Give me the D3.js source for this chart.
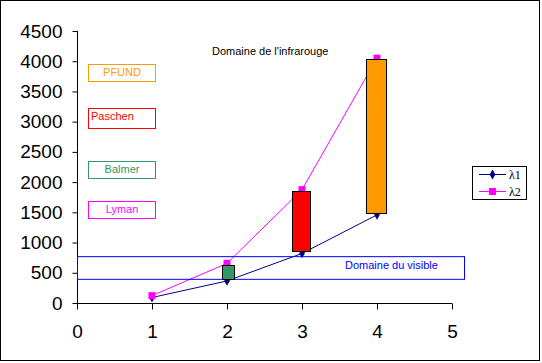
<!DOCTYPE html>
<html>
<head>
<meta charset="utf-8">
<script src="https://cdn.jsdelivr.net/npm/d3@7"></script>
<style>
  html, body { margin: 0; padding: 0; background: #fff; }
  svg { display: block; }
</style>
</head>
<body>
<svg id="chart" width="542" height="363"></svg>
<script>
// ---- data ----
const xValues = [1, 2, 3, 4];
const lambda1 = [91, 365, 820, 1458];
const lambda2 = [122, 656, 1875, 4051];
const seriesNames = ["λ1", "λ2"];
const yTicks = [0, 500, 1000, 1500, 2000, 2500, 3000, 3500, 4000, 4500];
const xTicks = [0, 1, 2, 3, 4, 5];
// floating range bars: [x0, x1, low, high]
const bandNames = ["Balmer", "Paschen", "PFUND"];
const bandX0 = [1.93, 2.87, 3.85];
const bandX1 = [2.09, 3.11, 4.12];
const bandLow = [400, 860, 1500];
const bandHigh = [630, 1853, 4040];
const visibleRange = [400, 775];
const visibleXRange = [0, 5.16];
const seriesLabels = ["PFUND", "Paschen", "Balmer", "Lyman"];
const seriesLabelValues = [3820, 3060, 2210, 1550];
const visibleLabel = "Domaine du visible";
const infraLabel = "Domaine de l'infrarouge";

// ---- layout ----
const svg = d3.select("#chart");
const x = d3.scaleLinear().domain([0, 5]).range([77, 452]);
const y = d3.scaleLinear().domain([0, 4500]).range([303, 31]);
const font = "Arial, 'Liberation Sans', sans-serif";

// outer frame
svg.append("rect").attr("x", 0.5).attr("y", 0.5).attr("width", 539).attr("height", 360)
  .attr("fill", "#fff").attr("stroke", "#000").attr("stroke-width", 1);

// axes
const yAxis = d3.axisLeft(y).tickValues(yTicks).tickSize(5).tickPadding(10).tickFormat(d3.format("d"));
const gy = svg.append("g").attr("transform", "translate(77.5,0)").call(yAxis);
gy.select(".domain").attr("d", `M0,${y(4500)}V${y(0)}`);
gy.selectAll("text").attr("font-family", font).attr("font-size", 19).attr("fill", "#000");

const xAxis = d3.axisBottom(x).tickValues(xTicks).tickSize(6).tickPadding(15).tickFormat(d3.format("d"));
const gx = svg.append("g").attr("transform", "translate(0,303.5)").call(xAxis);
gx.select(".domain").attr("d", `M${x(0)},0H${x(5)}`);
gx.selectAll("text").attr("font-family", font).attr("font-size", 19).attr("fill", "#000");
svg.selectAll(".domain, .tick line").attr("stroke", "#000").attr("stroke-width", 1);

// lines
const pts1 = xValues.map((v, i) => [v, lambda1[i]]);
const pts2 = xValues.map((v, i) => [v, lambda2[i]]);
const line = d3.line().x(d => x(d[0])).y(d => y(d[1]));
svg.append("path").attr("d", line(pts1)).attr("fill", "none").attr("stroke", "#000080").attr("stroke-width", 1);
svg.append("path").attr("d", line(pts2)).attr("fill", "none").attr("stroke", "#ff00ff").attr("stroke-width", 1);

const diamond = d3.symbol().type(d3.symbolDiamond).size(28);
svg.selectAll(".m1").data(pts1).enter().append("path")
  .attr("d", diamond).attr("transform", d => `translate(${x(d[0])},${y(d[1])})`).attr("fill", "#000080");
svg.selectAll(".m2").data(pts2).enter().append("rect")
  .attr("x", d => x(d[0]) - 3.5).attr("y", d => y(d[1]) - 3.5).attr("width", 7).attr("height", 7).attr("fill", "#ff00ff");

// visible domain box
svg.append("rect")
  .attr("x", x(visibleXRange[0]) + 0.5).attr("y", y(visibleRange[1]) + 0.5)
  .attr("width", x(visibleXRange[1]) - x(visibleXRange[0]))
  .attr("height", y(visibleRange[0]) - y(visibleRange[1]))
  .attr("fill", "none").attr("stroke", "#0000ff").attr("stroke-width", 1);
svg.append("text").attr("x", 345).attr("y", 269).text(visibleLabel)
  .attr("font-family", font).attr("font-size", 11).attr("fill", "#0000ff");

// bands
const bandColors = ["#339966", "#ff0000", "#ff9900"];
bandNames.forEach((n, i) => {
  svg.append("rect")
    .attr("x", Math.round(x(bandX0[i])) + 0.5).attr("y", Math.round(y(bandHigh[i])) + 0.5)
    .attr("width", Math.round(x(bandX1[i]) - x(bandX0[i])))
    .attr("height", Math.round(y(bandLow[i]) - y(bandHigh[i])))
    .attr("fill", bandColors[i]).attr("stroke", "#000").attr("stroke-width", 1);
});

// series label boxes
const labelColors = ["#ff9900", "#ff0000", "#339966", "#ff00ff"];
const labelH = [17, 20, 17, 17];
seriesLabels.forEach((s, i) => {
  const cy = y(seriesLabelValues[i]);
  const top = Math.round(cy - labelH[i] / 2);
  svg.append("rect").attr("x", 88.5).attr("y", top + 0.5).attr("width", 67).attr("height", labelH[i])
    .attr("fill", "none").attr("stroke", labelColors[i]).attr("stroke-width", 1);
  const t = svg.append("text").attr("y", top + 12).text(s)
    .attr("font-family", font).attr("font-size", 11).attr("fill", labelColors[i]);
  if (s === "Paschen") t.attr("x", 91);
  else t.attr("x", 122).attr("text-anchor", "middle");
});

// infrared label
svg.append("text").attr("x", 212).attr("y", 55).text(infraLabel)
  .attr("font-family", font).attr("font-size", 11).attr("fill", "#000");

// legend
const lg = svg.append("g");
lg.append("rect").attr("x", 472.5).attr("y", 166.5).attr("width", 54).attr("height", 33)
  .attr("fill", "#fff").attr("stroke", "#000").attr("stroke-width", 1);
const lColors = ["#000080", "#ff00ff"];
seriesNames.forEach((n, i) => {
  const ly = 174.5 + i * 17;
  lg.append("line").attr("x1", 479).attr("x2", 506).attr("y1", ly).attr("y2", ly)
    .attr("stroke", lColors[i]).attr("stroke-width", 1);
  if (i === 0) lg.append("path").attr("d", diamond).attr("transform", `translate(492.5,${ly})`).attr("fill", lColors[i]);
  else lg.append("rect").attr("x", 489).attr("y", ly - 3.5).attr("width", 7).attr("height", 7).attr("fill", lColors[i]);
  lg.append("text").attr("x", 509).attr("y", ly + 4).text(n)
    .attr("font-family", "'Liberation Serif', 'Times New Roman', serif").attr("font-size", 12).attr("fill", "#000");
});
</script>
</body>
</html>
